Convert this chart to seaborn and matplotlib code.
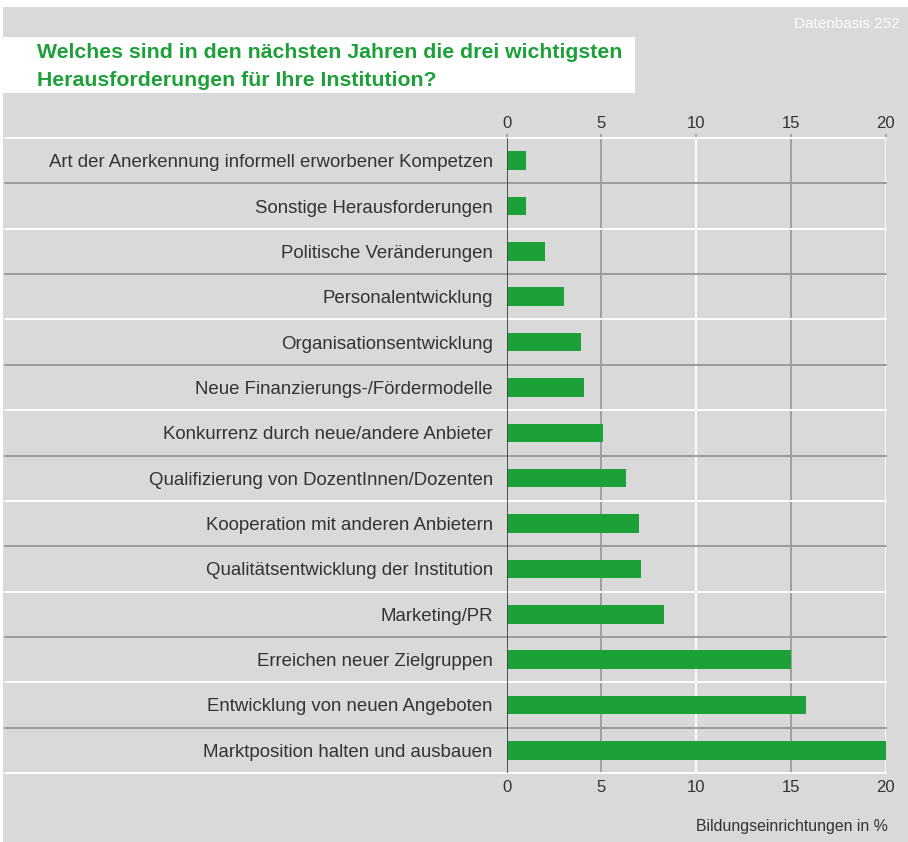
import pandas as pd
import matplotlib.pyplot as plt
import seaborn as sns
from matplotlib.patches import Rectangle

# Data
challenges = [
    "Art der Anerkennung informell erworbener Kompetzen",
    "Sonstige Herausforderungen",
    "Politische Veränderungen",
    "Personalentwicklung",
    "Organisationsentwicklung",
    "Neue Finanzierungs-/Fördermodelle",
    "Konkurrenz durch neue/andere Anbieter",
    "Qualifizierung von DozentInnen/Dozenten",
    "Kooperation mit anderen Anbietern",
    "Qualitätsentwicklung der Institution",
    "Marketing/PR",
    "Erreichen neuer Zielgruppen",
    "Entwicklung von neuen Angeboten",
    "Marktposition halten und ausbauen",
]
shares = [1.0, 1.0, 2.0, 3.0, 3.9, 4.1, 5.1, 6.3, 7.0, 7.1, 8.3, 15.0, 15.8, 20.1]
ticks = [0, 5, 10, 15, 20]

BG = "#d9d9d9"
GREEN = "#1ca038"
GRID_GREY = "#9b9b9b"
TEXT = "#333333"

df = pd.DataFrame({"challenge": challenges, "share": shares})

sns.set_theme(style="white")
plt.rcParams["font.family"] = ["Liberation Sans", "DejaVu Sans"]

fig = plt.figure(figsize=(9.08, 8.42), dpi=100, facecolor="white")
W, H = 908, 842
# grey background panel and white title box
fig.patches.append(Rectangle((3 / W, 0), 1, 1 - 7 / H, transform=fig.transFigure,
                             facecolor=BG, edgecolor="none", zorder=-2))
fig.patches.append(Rectangle((3 / W, 1 - 93 / H), 632 / W, 56 / H, transform=fig.transFigure,
                             facecolor="white", edgecolor="none", zorder=-1))

ax = fig.add_axes([506.7 / W, 1 - 773 / H, 379 / W, 635 / H])
ax.set_facecolor(BG)

sns.barplot(data=df, x="share", y="challenge", orient="h", color=GREEN,
            width=0.41, saturation=1, linewidth=0, ax=ax, zorder=3)

ax.set_xlim(0, 20)
ax.set_ylim(len(challenges) - 0.5, -0.5)

# vertical grid lines: grey at 5/15, white at 10/20
for t in ticks[1:]:
    ax.axvline(t, color=GRID_GREY if t % 10 else "white", lw=1.3, zorder=1)
ax.axvline(0, color="#444444", lw=1.3, zorder=4)

# row separators across the labels, alternating white / grey
for i in range(len(challenges) + 1):
    ax.axhline(i - 0.5, xmin=-1.325, xmax=1, clip_on=False,
               color="white" if i % 2 == 0 else GRID_GREY, lw=1.4, zorder=2)

for s in ax.spines.values():
    s.set_visible(False)

ax.set_xticks(ticks)
ax.tick_params(axis="x", which="both", top=True, bottom=False, labeltop=True, labelbottom=True,
               length=3, color=GRID_GREY, labelsize=12, labelcolor=TEXT, pad=2)
ax.tick_params(axis="y", length=0, labelsize=13.4, labelcolor=TEXT, pad=10)
ax.set_xlabel("")
ax.set_ylabel("")

fig.text(37 / W, 1 - 53 / H, "Welches sind in den nächsten Jahren die drei wichtigsten",
         color=GREEN, fontsize=15.3, fontweight="bold", va="center", ha="left")
fig.text(37 / W, 1 - 80 / H, "Herausforderungen für Ihre Institution?",
         color=GREEN, fontsize=15.3, fontweight="bold", va="center", ha="left")
fig.text(900 / W, 1 - 24 / H, "Datenbasis 252", color="white", fontsize=11,
         ha="right", va="center")
fig.text(888 / W, 1 - 826 / H, "Bildungseinrichtungen in %", color=TEXT, fontsize=11.4,
         ha="right", va="center")

fig.savefig("out.png", dpi=100, facecolor=fig.get_facecolor())
